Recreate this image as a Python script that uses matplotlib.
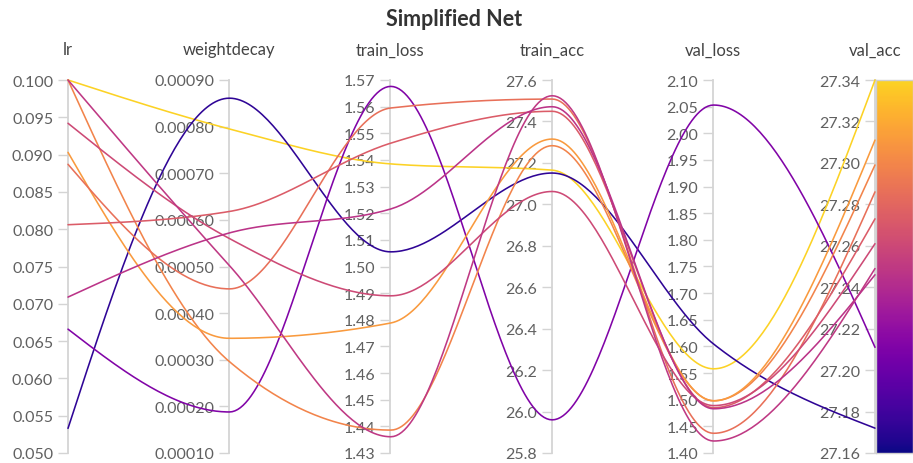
import numpy as np
import matplotlib.pyplot as plt
from matplotlib.ticker import FormatStrFormatter

plt.rcParams['font.family'] = ['Lato', 'DejaVu Sans']

W, H = 913, 464

dims = ['lr', 'weightdecay', 'train_loss', 'train_acc', 'val_loss', 'val_acc']

# one entry per run
lr = [0.100, 0.0533, 0.0666, 0.100, 0.0903, 0.0887, 0.0806, 0.0942, 0.100, 0.0709]
weightdecay = [0.000795, 0.000861, 0.000188, 0.000296, 0.000346,
               0.000452, 0.000618, 0.000560, 0.000502, 0.000572]
train_loss = [1.5385, 1.5055, 1.5676, 1.4386, 1.4788, 1.5595, 1.5463, 1.489, 1.4361, 1.5216]
train_acc = [27.165, 27.151, 25.96, 27.283, 27.315, 27.508, 27.449, 27.062, 27.524, 27.471]
val_loss = [1.558, 1.6045, 2.053, 1.498, 1.498, 1.437, 1.485, 1.489, 1.4225, 1.483]
val_acc = [27.340, 27.172, 27.211, 27.299, 27.311, 27.286, 27.273, 27.261, 27.249, 27.246]

# axis range, tick step and tick format for each column
ranges = {
    'lr': (0.050, 0.100, 0.005, '%.3f'),
    'weightdecay': (0.00010, 0.00090, 0.0001, '%.5f'),
    'train_loss': (1.43, 1.57, 0.01, '%.2f'),
    'train_acc': (25.8, 27.6, 0.2, '%.1f'),
    'val_loss': (1.40, 2.10, 0.05, '%.2f'),
    'val_acc': (27.16, 27.34, 0.02, '%.2f'),
}
columns = [lr, weightdecay, train_loss, train_acc, val_loss, val_acc]

cmap = plt.get_cmap('plasma')
CTOP = 0.91  # colour scale stops short of the lemon end of plasma


def monotone_curve(xs, ys, n=60):
    # d3 curveMonotoneX style interpolation, bezier segments between axes
    xs = np.asarray(xs, float)
    ys = np.asarray(ys, float)
    h = np.diff(xs)
    s = np.diff(ys) / h
    t = np.zeros(len(xs))
    sg = lambda v: -1.0 if v < 0 else 1.0
    for i in range(1, len(xs) - 1):
        p = (s[i - 1] * h[i] + s[i] * h[i - 1]) / (h[i - 1] + h[i])
        t[i] = (sg(s[i - 1]) + sg(s[i])) * min(abs(s[i - 1]), abs(s[i]), 0.5 * abs(p))
    t[0] = (3 * s[0] - t[1]) / 2
    t[-1] = (3 * s[-1] - t[-2]) / 2
    u = np.linspace(0, 1, n)[:, None]
    px, py = [], []
    for i in range(len(xs) - 1):
        dx = h[i] / 3
        P = np.array([[xs[i], ys[i]],
                      [xs[i] + dx, ys[i] + dx * t[i]],
                      [xs[i + 1] - dx, ys[i + 1] - dx * t[i + 1]],
                      [xs[i + 1], ys[i + 1]]])
        B = ((1 - u) ** 3) * P[0] + 3 * ((1 - u) ** 2) * u * P[1] \
            + 3 * (1 - u) * u ** 2 * P[2] + u ** 3 * P[3]
        px.append(B[:, 0])
        py.append(B[:, 1])
    return np.concatenate(px), np.concatenate(py)


fig = plt.figure(figsize=(W / 100, H / 100), dpi=100)

axis_x = [68, 229, 390, 552, 713, 875]
top, bottom = 81, 454
fb = (H - bottom) / H
fh = (bottom - top) / H

grey = '#d4d4d4'
for name, px in zip(dims, axis_x):
    lo, hi, step, fmt = ranges[name]
    ax = fig.add_axes([px / W, fb, 0.0005, fh])
    ax.set_facecolor('none')
    ax.set_ylim(lo, hi)
    ax.set_yticks(np.arange(lo, hi + step / 2, step))
    ax.yaxis.set_major_formatter(FormatStrFormatter(fmt))
    ax.set_xticks([])
    for side in ['top', 'right', 'bottom']:
        ax.spines[side].set_visible(False)
    ax.spines['left'].set_color(grey)
    ax.spines['left'].set_linewidth(1.3)
    ax.tick_params(axis='y', length=7.2, width=1.0, color=grey, pad=3.5,
                   labelsize=11.5, labelcolor='#606060')
    ax.set_title(name, pad=18.5, fontsize=12, color='#444444')

# colour bar next to the last axis
cax = fig.add_axes([876 / W, fb, (W - 876) / W, fh])
grad = np.linspace(0, CTOP, 256)[:, None]
cax.imshow(grad, aspect='auto', cmap=cmap, origin='lower', vmin=0, vmax=1,
           extent=[0, 1, 0, 1])
cax.set_xticks([])
cax.set_yticks([])
for sp in cax.spines.values():
    sp.set_color('#cfcfcf')
    sp.set_linewidth(1.0)

# curves
lax = fig.add_axes([axis_x[0] / W, fb, (axis_x[-1] - axis_x[0]) / W, fh])
lax.set_facecolor('none')
lax.set_xlim(0, len(dims) - 1)
lax.set_ylim(0, 1)
lax.axis('off')

vlo, vhi = ranges['val_acc'][0], ranges['val_acc'][1]
for r in range(len(lr)):
    ys = []
    for name, col in zip(dims, columns):
        lo, hi = ranges[name][0], ranges[name][1]
        ys.append((col[r] - lo) / (hi - lo))
    cx, cy = monotone_curve(np.arange(len(dims)), ys)
    c = cmap((val_acc[r] - vlo) / (vhi - vlo) * CTOP)
    lax.plot(cx, cy, color=c, lw=1.15, clip_on=False, solid_capstyle='round')

fig.text(454.5 / W, (H - 26.5) / H, 'Simplified Net', ha='center', va='baseline',
         fontsize=15.5, fontweight='bold', color='#333333')

fig.savefig('out.png', dpi=100)
